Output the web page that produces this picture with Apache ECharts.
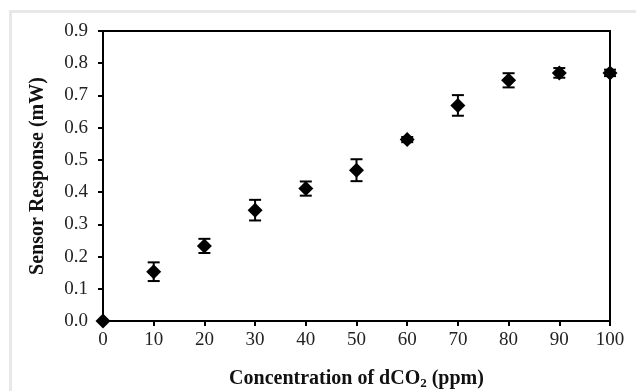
<!DOCTYPE html>
<html>
<head>
<meta charset="utf-8">
<script src="https://cdn.jsdelivr.net/npm/echarts@6/dist/echarts.min.js"></script>
<style>
  html, body { margin: 0; padding: 0; background: #fff; }
  #main { width: 636px; height: 391px; }
</style>
</head>
<body>
<div id="main"></div>
<script>
// concentration (ppm) vs sensor response (mW)
var concentration = [0, 10, 20, 30, 40, 50, 60, 70, 80, 90, 100];
var response = [0, 0.153, 0.233, 0.344, 0.411, 0.468, 0.563, 0.669, 0.747, 0.770, 0.770];
var errorSize = [0, 0.029, 0.022, 0.032, 0.022, 0.034, 0.008, 0.032, 0.022, 0.015, 0.01];

var myChart = echarts.init(document.getElementById('main'));

var points = [];
var bars = [];
for (var i = 0; i < concentration.length; i++) {
	points.push([concentration[i], response[i]]);
	bars.push([concentration[i], response[i] - errorSize[i], response[i] + errorSize[i]]);
}

var font = '"Liberation Serif", "DejaVu Serif", serif';

var option = {
	backgroundColor: '#fff',
	animation: false,
	graphic: [{
		type: 'polyline',
		shape: { points: [[10.5, 391], [10.5, 11.5], [636, 11.5]] },
		style: { stroke: '#e8e8e8', lineWidth: 3, fill: null }
	}],
	grid: {
		left: 103,
		right: 26,
		top: 31,
		bottom: 70,
		outerBoundsMode: 'none',
		containLabel: false,
		show: true,
		borderColor: '#000',
		borderWidth: 2
	},
	xAxis: {
		type: 'value',
		min: 0,
		max: 100,
		interval: 10,
		name: 'Concentration of dCO{sub|2} (ppm)',
		nameLocation: 'middle',
		nameGap: 47,
		nameTextStyle: {
			fontFamily: font,
			fontWeight: 'bold',
			fontSize: 20,
			color: '#111',
			rich: {
				sub: { fontFamily: font, fontWeight: 'bold', fontSize: 13, color: '#111', verticalAlign: 'bottom', padding: [9, 0, 0, 0] }
			}
		},
		axisLine: { lineStyle: { color: '#000', width: 2 } },
		axisTick: { length: 5, lineStyle: { color: '#000', width: 2 } },
		axisLabel: { fontFamily: font, fontSize: 19, color: '#222', margin: 10 },
		splitLine: { show: false }
	},
	yAxis: {
		type: 'value',
		min: 0,
		max: 0.9,
		interval: 0.1,
		name: 'Sensor Response (mW)',
		nameLocation: 'middle',
		nameGap: 55,
		nameTextStyle: { fontFamily: font, fontWeight: 'bold', fontSize: 20, color: '#111' },
		axisLine: { lineStyle: { color: '#000', width: 2 } },
		axisTick: { length: 5, lineStyle: { color: '#000', width: 2 } },
		axisLabel: {
			fontFamily: font, fontSize: 19, color: '#222', margin: 15,
			formatter: function (v) { return v.toFixed(1); }
		},
		splitLine: { show: false }
	},
	series: [{
		type: 'custom',
		clip: false,
		data: bars,
		renderItem: function (params, api) {
			var x = api.value(0);
			var lo = api.coord([x, api.value(1)]);
			var hi = api.coord([x, api.value(2)]);
			var half = 6;
			var st = { stroke: '#000', lineWidth: 2 };
			return {
				type: 'group',
				children: [
					{ type: 'line', shape: { x1: lo[0], y1: lo[1], x2: hi[0], y2: hi[1] }, style: st },
					{ type: 'line', shape: { x1: lo[0] - half, y1: lo[1], x2: lo[0] + half, y2: lo[1] }, style: st },
					{ type: 'line', shape: { x1: hi[0] - half, y1: hi[1], x2: hi[0] + half, y2: hi[1] }, style: st }
				]
			};
		},
		z: 3
	}, {
		type: 'scatter',
		symbol: 'diamond',
		symbolSize: 15,
		clip: false,
		itemStyle: { color: '#000', opacity: 1 },
		data: points,
		z: 4
	}]
};
myChart.setOption(option);
</script>
</body>
</html>
